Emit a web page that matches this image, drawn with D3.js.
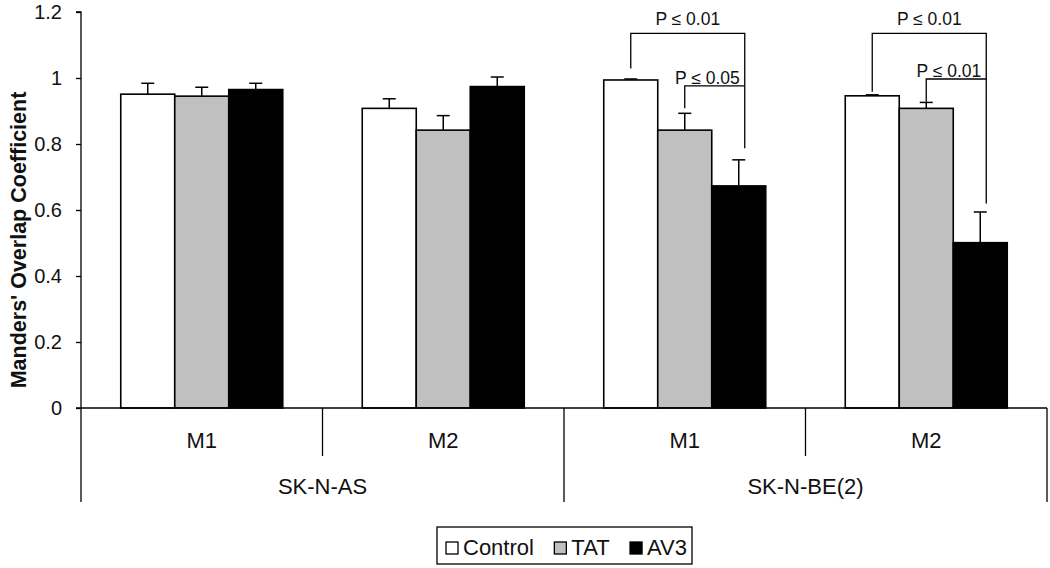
<!DOCTYPE html>
<html>
<head>
<meta charset="utf-8">
<script src="https://cdn.jsdelivr.net/npm/d3@7/dist/d3.min.js"></script>
<style>
  html, body { margin: 0; padding: 0; background: #fff; }
  svg { display: block; font-family: "Liberation Sans", Arial, sans-serif; }
</style>
</head>
<body>
<svg id="chart" width="1050" height="568"></svg>
<script>
// ---------- data ----------
const groups = ["M1", "M2", "M1", "M2"];
const cellLines = ["SK-N-AS", "SK-N-BE(2)"];
const series = ["Control", "TAT", "AV3"];
const controlValues = [0.951, 0.908, 0.994, 0.946];
const tatValues     = [0.945, 0.842, 0.842, 0.908];
const av3Values     = [0.965, 0.974, 0.673, 0.501];
const controlErr = [0.033, 0.029, 0.003, 0.003];
const tatErr     = [0.027, 0.044, 0.051, 0.018];
const av3Err     = [0.019, 0.029, 0.079, 0.093];
const yTicks = [0, 0.2, 0.4, 0.6, 0.8, 1, 1.2];
const yTickLabels = ["0", "0.2", "0.4", "0.6", "0.8", "1", "1.2"];
// significance brackets (values in y-units)
const brackets = [
  { group: 2, from: "Control", to: "AV3", level: 1.135, fromEnd: 1.029, toEnd: 0.787, label: "P \u2264 0.01", major: true },
  { group: 2, from: "TAT",     to: "AV3", level: 0.976, fromEnd: 0.908, toEnd: null,  label: "P \u2264 0.05", major: false },
  { group: 3, from: "Control", to: "AV3", level: 1.135, fromEnd: 0.958, toEnd: 0.620, label: "P \u2264 0.01", major: true },
  { group: 3, from: "TAT",     to: "AV3", level: 0.997, fromEnd: 0.928, toEnd: null,  label: "P \u2264 0.01", major: false }
];

(function () {
const valuesBySeries = { Control: controlValues, TAT: tatValues, AV3: av3Values };
const errBySeries = { Control: controlErr, TAT: tatErr, AV3: av3Err };
const fills = { Control: "#ffffff", TAT: "#c0c0c0", AV3: "#000000" };

// ---------- layout ----------
const svg = d3.select("#chart");
const pLeft = 81, pRight = 1047, pTop = 12, pBottom = 408;

const y = d3.scaleLinear().domain([0, 1.2]).range([pBottom, pTop]);
const x0 = d3.scaleBand().domain(d3.range(groups.length)).range([pLeft, pRight]).paddingInner(0).paddingOuter(0);
const x1 = d3.scaleBand().domain(series).range([0, x0.bandwidth()]).paddingInner(0).paddingOuter(0.736);
const xCell = d3.scaleBand().domain(d3.range(cellLines.length)).range([pLeft, pRight]);

const data = [];
groups.forEach((g, i) => series.forEach(s => data.push({ gi: i, s, v: valuesBySeries[s][i], e: errBySeries[s][i] })));

// ---------- y axis ----------
const yAxis = d3.axisLeft(y).tickValues(yTicks).tickFormat((d, i) => yTickLabels[i]).tickSize(5).tickPadding(14);
const yg = svg.append("g").attr("transform", `translate(${pLeft},0)`).call(yAxis);
yg.select(".domain").attr("stroke", "#000").attr("stroke-width", 1.3).attr("d", `M-5,${pTop}H0V${pBottom}`);
yg.selectAll(".tick line").attr("stroke", "#000").attr("stroke-width", 1.3);
yg.selectAll(".tick text").attr("font-size", 20).attr("fill", "#111").attr("font-family", "Liberation Sans, Arial, sans-serif");

svg.append("text")
  .attr("transform", `translate(26,240) rotate(-90)`)
  .attr("text-anchor", "middle")
  .attr("font-size", 21.5)
  .attr("font-weight", "bold")
  .attr("fill", "#111")
  .text("Manders' Overlap Coefficient");

// ---------- bars ----------
svg.append("g").selectAll("rect").data(data).join("rect")
  .attr("x", d => x0(d.gi) + x1(d.s))
  .attr("y", d => y(d.v))
  .attr("width", x1.bandwidth())
  .attr("height", d => y(0) - y(d.v))
  .attr("fill", d => fills[d.s])
  .attr("stroke", "#000")
  .attr("stroke-width", 1.6);

// error bars (upper only)
const eg = svg.append("g").attr("stroke", "#000").attr("stroke-width", 1.5);
data.forEach(d => {
  const cx = x0(d.gi) + x1(d.s) + x1.bandwidth() / 2;
  eg.append("line").attr("x1", cx).attr("x2", cx).attr("y1", y(d.v)).attr("y2", y(d.v + d.e));
  eg.append("line").attr("x1", cx - 6.5).attr("x2", cx + 6.5).attr("y1", y(d.v + d.e)).attr("y2", y(d.v + d.e));
});

// ---------- category axis ----------
const ag = svg.append("g").attr("stroke", "#000").attr("stroke-width", 1.3);
ag.append("line").attr("x1", pLeft - 5).attr("x2", pRight).attr("y1", pBottom).attr("y2", pBottom);
cellLines.forEach((c, ci) => {
  const mid = xCell(ci) + xCell.bandwidth() / 2;
  ag.append("line").attr("x1", mid).attr("x2", mid).attr("y1", pBottom).attr("y2", 456);
});
d3.range(cellLines.length + 1).forEach(k => {
  const xx = k < cellLines.length ? xCell(k) : pRight;
  ag.append("line").attr("x1", xx).attr("x2", xx).attr("y1", pBottom).attr("y2", 502);
});
svg.append("g").selectAll("text").data(groups).join("text")
  .attr("x", (d, i) => x0(i) + x0.bandwidth() / 2)
  .attr("y", 448)
  .attr("text-anchor", "middle")
  .attr("font-size", 22)
  .attr("fill", "#111")
  .text(d => d);
svg.append("g").selectAll("text").data(cellLines).join("text")
  .attr("x", (d, i) => xCell(i) + xCell.bandwidth() / 2)
  .attr("y", 494)
  .attr("text-anchor", "middle")
  .attr("font-size", 22)
  .attr("fill", "#111")
  .text(d => d);

// ---------- significance brackets ----------
const bg = svg.append("g");
brackets.forEach(b => {
  const xf = x0(b.group) + x1(b.from) + x1.bandwidth() / 2;
  const xt = x0(b.group) + x1(b.to) + x1.bandwidth() / 2 + 6;
  const yl = y(b.level);
  let path = `M${xf},${y(b.fromEnd)}V${yl}H${xt}`;
  if (b.toEnd !== null) path += `V${y(b.toEnd)}`;
  bg.append("path").attr("d", path).attr("fill", "none").attr("stroke", "#000").attr("stroke-width", 1.3);
  const t = bg.append("text").attr("font-size", 17.5).attr("fill", "#111").text(b.label);
  if (b.major) {
    t.attr("x", (xf + xt) / 2).attr("y", yl - 8).attr("text-anchor", "middle");
  } else {
    t.attr("x", xt - 5).attr("y", yl - 2).attr("text-anchor", "end");
  }
});

// ---------- legend ----------
const lg = svg.append("g");
const boxX = 437, boxY = 527, boxW = 255, boxH = 37;
lg.append("rect").attr("x", boxX).attr("y", boxY).attr("width", boxW).attr("height", boxH)
  .attr("fill", "#fff").attr("stroke", "#000").attr("stroke-width", 1.3);
const sw = 12, swGap = 5, startX = boxX + 9, endX = boxX + boxW - 5;
const items = series.map(s => {
  const g = lg.append("g");
  g.append("rect").attr("x", 0).attr("y", boxY + 15).attr("width", sw).attr("height", sw)
    .attr("fill", fills[s]).attr("stroke", "#000").attr("stroke-width", 1.3);
  const t = g.append("text").attr("x", sw + swGap).attr("y", boxY + 28).attr("font-size", 22).attr("fill", "#111").text(s);
  return { g, w: sw + swGap + t.node().getComputedTextLength() };
});
const totalW = d3.sum(items, d => d.w);
const gap = (endX - startX - totalW) / (items.length - 1);
let lx = startX;
items.forEach(it => { it.g.attr("transform", `translate(${lx},0)`); lx += it.w + gap; });
})();
</script>
</body>
</html>
